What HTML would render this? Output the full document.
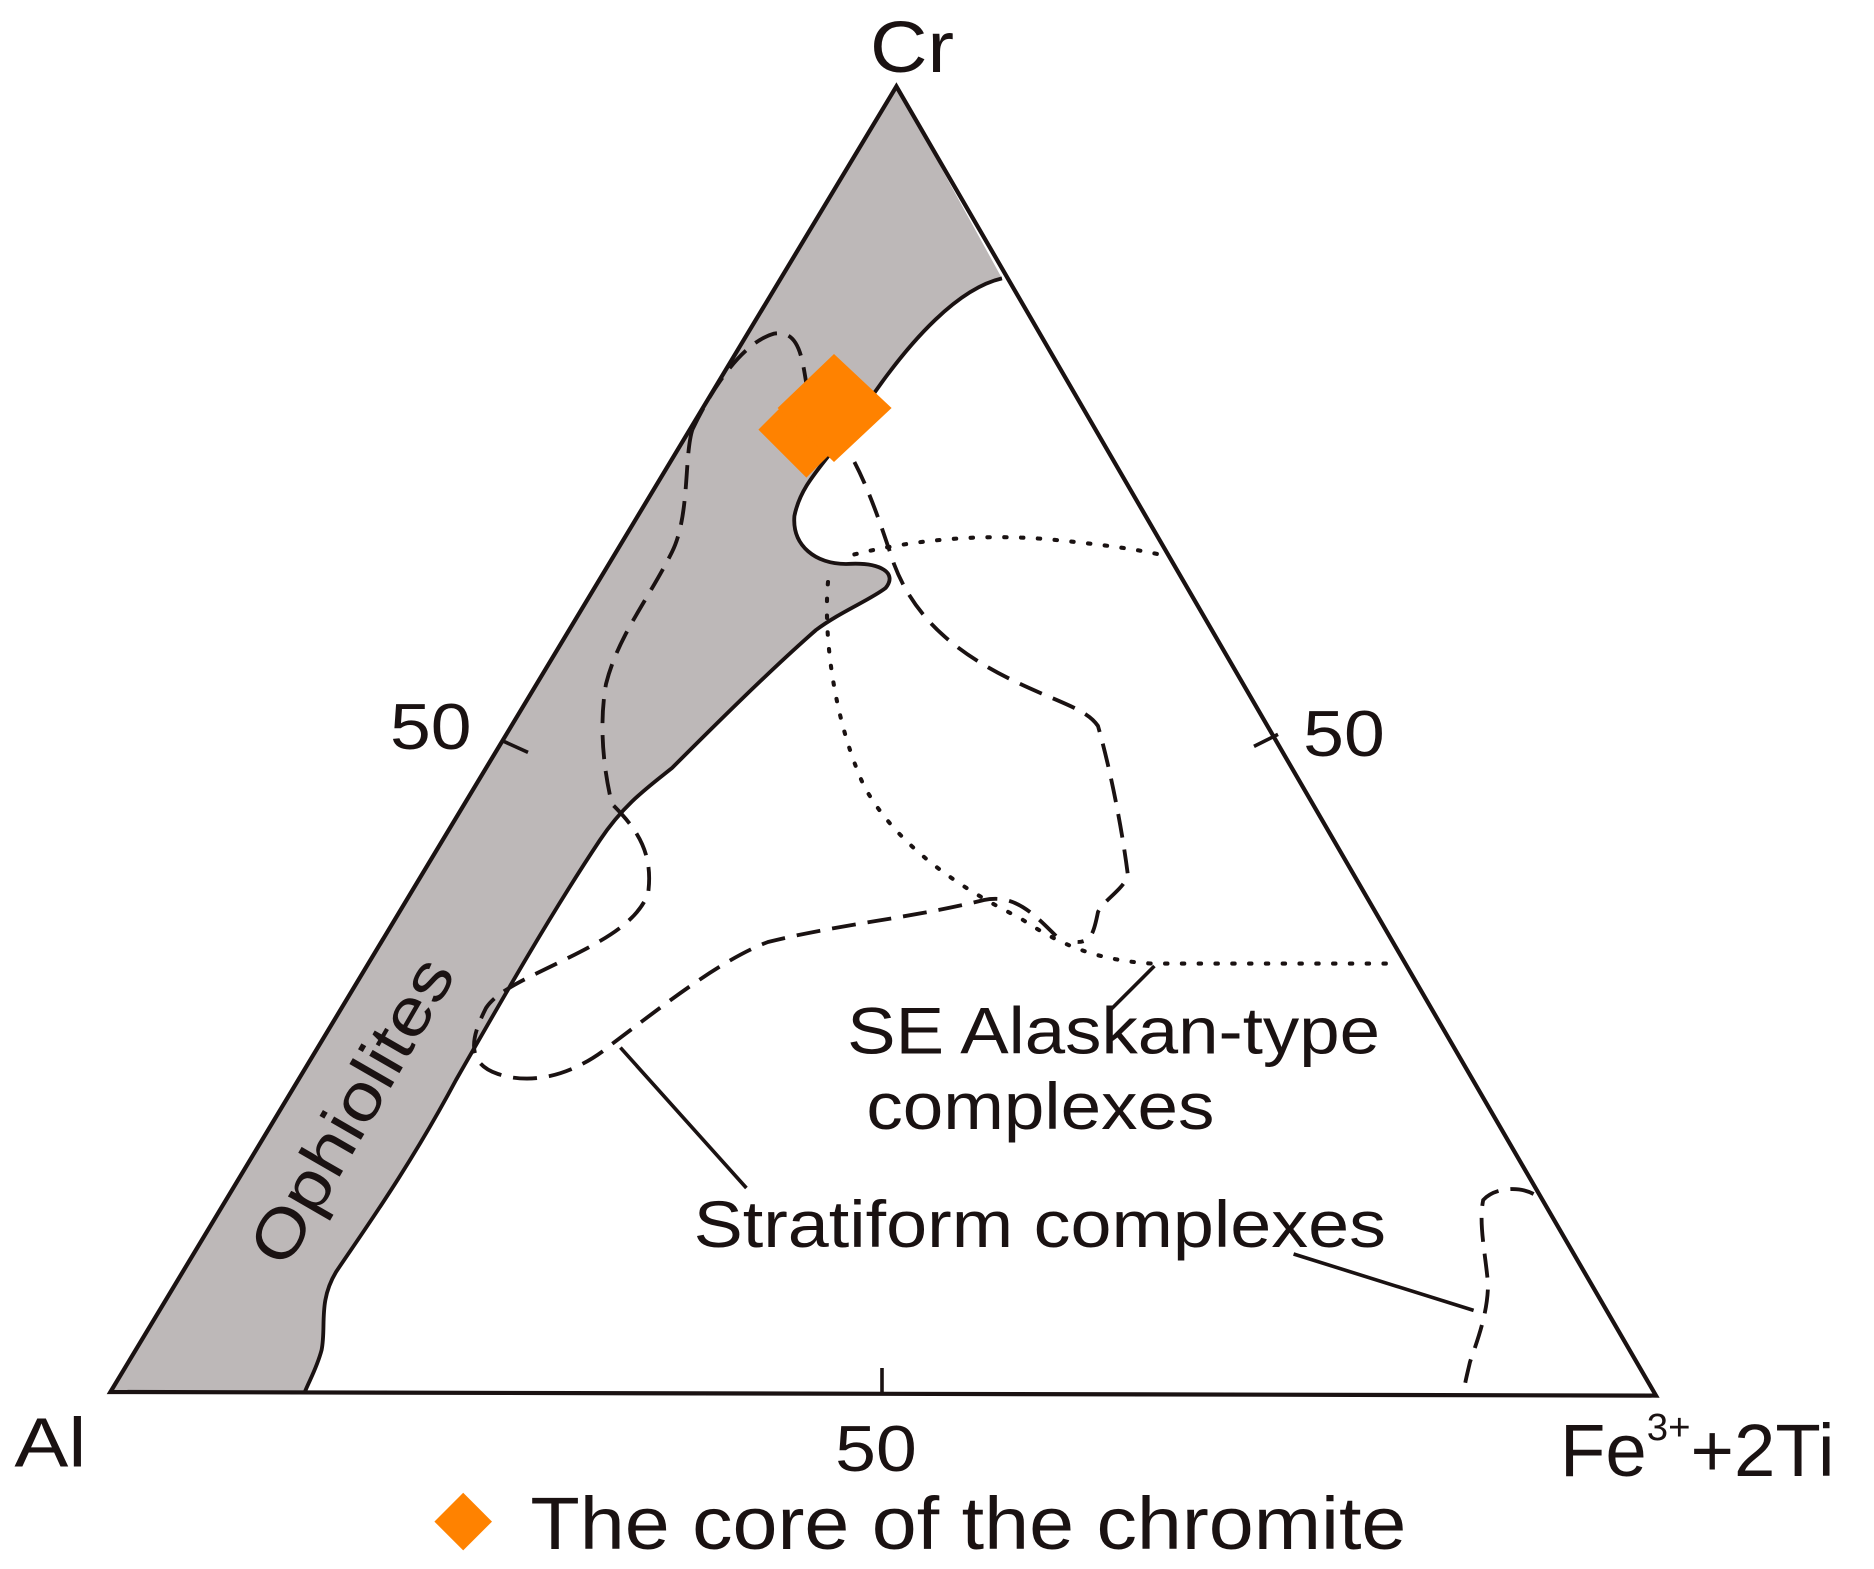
<!DOCTYPE html>
<html><head><meta charset="utf-8"><style>html,body{margin:0;padding:0;background:#fff}svg{display:block}</style></head>
<body>
<svg width="1874" height="1569" viewBox="0 0 1561.67 1307.5" xmlns="http://www.w3.org/2000/svg" font-family="Liberation Sans, Arial, sans-serif" fill="#1a1212">
<path d="M92,1160 L747,72 L835,232 C800,240 760,280 720,340 C690,385 668,400 662,430 C660,455 680,470 705,470 C735,468 748,478 738,490 C725,500 700,510 680,525 C640,560 590,610 560,640 C540,656 520,670 500,700 C460,760 420,830 380,900 C340,975 300,1030 280,1060 C265,1085 272,1105 268,1125 C264,1140 258,1150 254,1160 Z" fill="#bdb8b8" stroke="none"/>
<path d="M835,232 C800,240 760,280 720,340 C690,385 668,400 662,430 C660,455 680,470 705,470 C735,468 748,478 738,490 C725,500 700,510 680,525 C640,560 590,610 560,640 C540,656 520,670 500,700 C460,760 420,830 380,900 C340,975 300,1030 280,1060 C265,1085 272,1105 268,1125 C264,1140 258,1150 254,1160" fill="none" stroke="#1a1212" stroke-width="3.2"/>
<path d="M92,1160 L747,72 L1380,1163 Z" fill="none" stroke="#1a1212" stroke-width="3.5"/>
<line x1="418" y1="617" x2="440" y2="627" stroke="#1a1212" stroke-width="3"/>
<line x1="1045" y1="622" x2="1065" y2="612" stroke="#1a1212" stroke-width="3"/>
<line x1="735" y1="1140" x2="735" y2="1160" stroke="#1a1212" stroke-width="3"/>
<g fill="none" stroke="#1a1212" stroke-width="3.2" stroke-dasharray="20,10">
<path d="M577,358 C595,320 620,285 645,278 C665,275 668,295 672,320"/>
<path d="M712,385 C725,410 735,440 745,470 C760,510 790,540 840,565 C880,585 905,590 915,605 C925,640 935,690 940,730 C935,742 920,750 915,760 C912,775 910,785 898,785"/>
<path d="M577,358 C570,380 575,430 560,460 C540,500 515,530 505,570 C498,610 505,650 510,670 C530,690 545,710 540,745 C530,770 500,785 470,800 C440,815 415,825 405,840 C395,860 385,885 415,895 C445,905 480,895 510,870 C550,840 600,800 640,785 C700,770 760,765 820,750 C845,745 860,760 880,780"/>
<path d="M1278,995 C1265,988 1245,990 1236,1000 C1232,1020 1238,1045 1240,1070 C1240,1095 1230,1120 1225,1135 C1222,1148 1220,1155 1220,1162"/>
</g>
<g fill="none" stroke="#1a1212" stroke-width="3.4" stroke-dasharray="2,12" stroke-linecap="round">
<path d="M712,462 C760,450 820,444 880,450 C920,454 950,458 970,463"/>
<path d="M690,485 C686,530 695,600 720,655 C750,710 810,745 850,765 C880,785 910,800 960,803 L1160,803"/>
</g>
<g stroke="#1a1212" stroke-width="3">
<line x1="962" y1="805" x2="925" y2="842"/>
<line x1="517" y1="873" x2="622" y2="990"/>
<line x1="1078" y1="1045" x2="1228" y2="1092"/>
</g>
<g fill="#ff8200">
<polygon points="672,318 712,358 672,398 632,358"/>
<polygon points="695,295 743,340 695,385 648,340"/>
<polygon points="386,1244 410,1268 386,1292 362,1268"/>
</g>
<text x="725" y="60" font-size="60" textLength="70" lengthAdjust="spacingAndGlyphs">Cr</text>
<text x="325" y="624" font-size="54" textLength="68" lengthAdjust="spacingAndGlyphs">50</text>
<text x="1086" y="630" font-size="54" textLength="68" lengthAdjust="spacingAndGlyphs">50</text>
<text x="696" y="1226" font-size="54" textLength="68" lengthAdjust="spacingAndGlyphs">50</text>
<text x="12" y="1222" font-size="58" textLength="60" lengthAdjust="spacingAndGlyphs">Al</text>
<text x="1300" y="1230" font-size="62">Fe<tspan font-size="32" dy="-30">3+</tspan><tspan dy="30">+2Ti</tspan></text>
<text x="706" y="878" font-size="55" textLength="444" lengthAdjust="spacingAndGlyphs">SE Alaskan-type</text>
<text x="722" y="941" font-size="55" textLength="290" lengthAdjust="spacingAndGlyphs">complexes</text>
<text x="578" y="1039" font-size="55" textLength="577" lengthAdjust="spacingAndGlyphs">Stratiform complexes</text>
<text x="292" y="945" font-size="55" text-anchor="middle" textLength="285" lengthAdjust="spacingAndGlyphs" transform="rotate(-60 292 925)">Ophiolites</text>
<text x="442" y="1291" font-size="62" textLength="730" lengthAdjust="spacingAndGlyphs">The core of the chromite</text>
</svg>
</body></html>
